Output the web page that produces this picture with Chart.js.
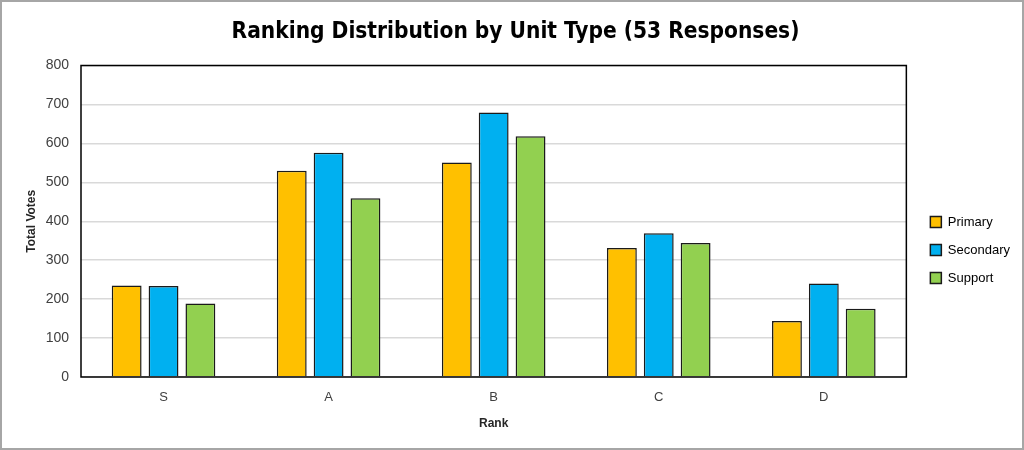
<!DOCTYPE html>
<html>
<head>
<meta charset="utf-8">
<script src="https://cdn.jsdelivr.net/npm/chart.js@4.4.0/dist/chart.umd.min.js"></script>
<style>
  body { margin: 0; background: #fff; }
  #wrap { width: 1024px; height: 450px; position: relative; }
</style>
</head>
<body>
<div id="wrap"><canvas id="chart" width="1024" height="450"></canvas></div>
<script>
const ranks = ['S', 'A', 'B', 'C', 'D'];
const primary = [235, 530, 551, 331, 144];
const secondary = [234, 576, 679, 369, 240];
const support = [189, 459, 618, 344, 175];
const yTicks = [0, 100, 200, 300, 400, 500, 600, 700, 800];

const titleFont = "'Liberation Sans Narrow', 'DejaVu Sans Condensed', sans-serif";
const bodyFont = "'Liberation Sans', Arial, sans-serif";

// outer frame + full border round the plot area
const frames = {
  id: 'frames',
  beforeDraw(chart) {
    const c = chart.ctx;
    c.save();
    c.fillStyle = '#fff';
    c.fillRect(0, 0, chart.width, chart.height);
    c.strokeStyle = '#a6a6a6';
    c.lineWidth = 2;
    c.strokeRect(1, 1, chart.width - 2, chart.height - 2);
    c.restore();
  },
  afterDatasetsDraw(chart) {
    const a = chart.chartArea;
    const c = chart.ctx;
    c.save();
    c.strokeStyle = '#000';
    c.lineWidth = 1.5;
    c.strokeRect(a.left, a.top, a.right - a.left, a.bottom - a.top);
    c.restore();
  }
};

// nudge the legend a bit right and down, like the original sits
const legendNudge = {
  id: 'legendNudge',
  afterLayout(chart) {
    const lg = chart.legend;
    if (!lg) return;
    lg.left += 9; lg.right += 9;
    lg.top += 27; lg.bottom += 27;
  }
};

const ds = (label, data, color) => ({
  label: label,
  data: data,
  backgroundColor: color,
  borderColor: '#1a1a1a',
  borderWidth: 1.5,
  categoryPercentage: 0.67,
  barPercentage: 0.81
});

new Chart(document.getElementById('chart').getContext('2d'), {
  type: 'bar',
  data: {
    labels: ranks,
    datasets: [
      ds('Primary', primary, '#FFC000'),
      ds('Secondary', secondary, '#00B0F0'),
      ds('Support', support, '#92D050')
    ]
  },
  options: {
    responsive: false,
    animation: false,
    layout: { padding: { left: 20, right: 13, top: 12, bottom: 16 } },
    plugins: {
      title: {
        display: true,
        text: 'Ranking Distribution by Unit Type (53 Responses)',
        color: '#000',
        font: { family: titleFont, size: 22.5, weight: 'bold' },
        padding: { top: 7, bottom: 19.5 }
      },
      legend: {
        position: 'right',
        labels: {
          color: '#404040',
          font: { family: bodyFont, size: 13 },
          boxWidth: 11,
          boxHeight: 11,
          padding: 15,
          generateLabels(chart) {
            return chart.data.datasets.map((d, i) => ({
              text: d.label,
              fillStyle: d.backgroundColor,
              strokeStyle: '#1a1a1a',
              lineWidth: 1.5,
              datasetIndex: i
            }));
          }
        }
      },
      tooltip: { enabled: false }
    },
    scales: {
      x: {
        grid: { display: false, drawTicks: false },
        border: { display: false },
        ticks: { color: '#404040', font: { family: bodyFont, size: 13, lineHeight: 1 }, padding: 14 },
        title: {
          display: true, text: 'Rank', color: '#262626',
          font: { family: bodyFont, size: 12, weight: 'bold', lineHeight: 1 },
          padding: { top: 0 }
        }
      },
      y: {
        min: 0,
        max: 800,
        afterBuildTicks(scale) { scale.ticks = yTicks.map(v => ({ value: v })); },
        afterFit(scale) { scale.width = 61; },
        grid: { color: '#d9d9d9', lineWidth: 1.5, drawTicks: false },
        border: { display: false },
        ticks: { color: '#404040', font: { family: bodyFont, size: 14 }, padding: 12 },
        title: {
          display: true, text: 'Total Votes', color: '#262626',
          font: { family: bodyFont, size: 12, weight: 'bold' },
          padding: { top: 4, bottom: 0 }
        }
      }
    }
  },
  plugins: [frames, legendNudge]
});
</script>
</body>
</html>
